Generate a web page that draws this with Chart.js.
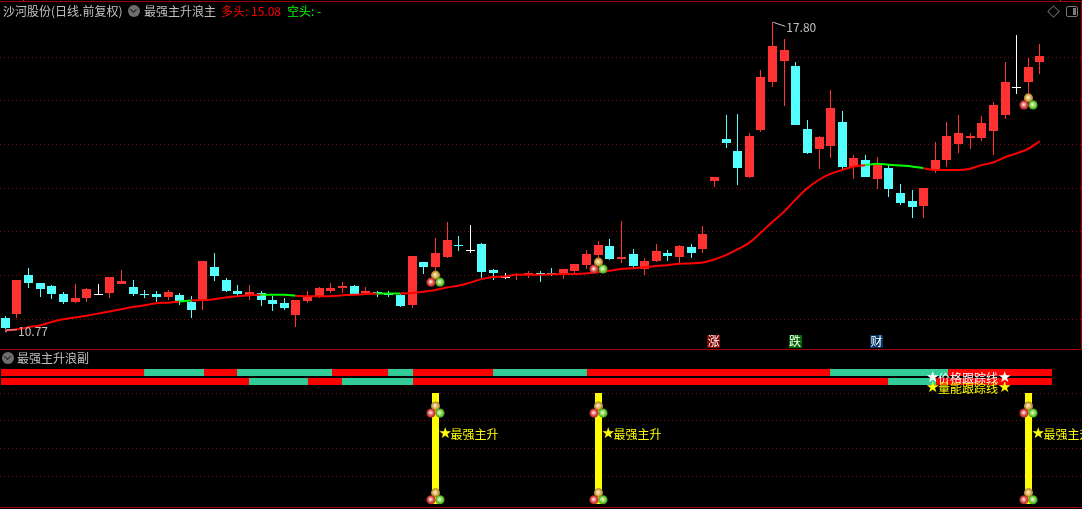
<!DOCTYPE html>
<html lang="zh">
<head>
<meta charset="utf-8">
<title>沙河股份</title>
<script src="https://cdn.jsdelivr.net/npm/chart.js@4/dist/chart.umd.min.js"></script>
<style>
    html, body { margin: 0; background: #000; overflow: hidden; }
    #wrap { position: relative; width: 1082px; height: 509px; overflow: hidden; font: 12px "Noto Sans CJK SC", sans-serif; }
    canvas { position: absolute; left: 0; top: 0; }
    .txt { position: absolute; white-space: nowrap; line-height: 14px; color: #c0c0c0; }
    .rule { position: absolute; background: #a00000; }
    .drop { position: absolute; width: 12px; height: 12px; border-radius: 50%; background: #6e6e6e; }
    .drop::after { content: ""; position: absolute; left: 3px; top: 2px; width: 4px; height: 4px; border: solid #222; border-width: 0 1px 1px 0; transform: rotate(45deg); }
    #diamond { position: absolute; left: 1049px; top: 7px; width: 7px; height: 7px; border: 1px solid #666; transform: rotate(45deg); }
    #box { position: absolute; left: 1066px; top: 6px; width: 10px; height: 9px; border: 1px solid #777; border-radius: 2px; }
    #box::after { content: ""; position: absolute; right: 1px; top: 1px; width: 3px; height: 7px; background: #777; }
</style>
</head>
<body>
<div id="wrap">
    <canvas id="kline" width="1082" height="509"></canvas>
    <div class="rule" style="left:0;top:1px;width:1082px;height:1px"></div>
    <div class="rule" style="left:23px;top:0;width:1px;height:1px;background:#ff2020"></div>
    <div class="rule" style="left:1060px;top:0;width:1px;height:1px;background:#ff2020"></div>
    <div class="rule" style="left:1081px;top:1px;width:1px;height:348px"></div>
    <div class="rule" style="left:0;top:349px;width:1082px;height:1px"></div>
    <div class="rule" style="left:0;top:507px;width:1082px;height:1px"></div>

    <div class="txt" style="left:3px;top:4px">沙河股份(日线.前复权)</div>
    <div class="drop" style="left:128px;top:5px"></div>
    <div class="txt" style="left:144px;top:4px">最强主升浪主</div>
    <div class="txt" style="left:221px;top:4px;color:#ff0000">多头: 15.08</div>
    <div class="txt" style="left:287px;top:4px;color:#00ff00">空头: -</div>
    <div id="diamond"></div>
    <div id="box"></div>

    <div class="drop" style="left:2px;top:352px"></div>
    <div class="txt" style="left:17px;top:351px">最强主升浪副</div>
</div>

<script>
// K-line values, index = trading day
const opens = [11.03,11.13,12.01,11.83,11.76,11.58,11.40,11.49,11.59,11.60,
    11.81,11.74,11.59,11.58,11.51,11.56,11.40,11.44,12.20,11.90,
    11.65,11.56,11.60,11.44,11.37,11.10,11.42,11.51,11.65,11.72,
    11.76,11.60,11.63,11.58,11.56,11.33,12.31,12.20,12.43,12.70,
    12.58,12.73,12.13,11.98,12.02,12.02,12.06,12.06,12.04,12.11,
    12.24,12.47,12.68,12.38,12.50,12.15,12.34,12.52,12.43,12.66,
    12.61,14.17,15.13,14.86,14.26,15.34,16.44,16.92,16.80,15.36,
    14.90,14.97,15.52,14.49,14.65,14.21,14.47,13.89,13.71,13.60,
    14.44,14.65,15.02,15.15,15.15,15.31,15.68,16.31,16.44,16.89];
const closes = [10.81,11.90,11.83,11.69,11.58,11.40,11.49,11.69,11.59,11.97,
    11.88,11.58,11.57,11.51,11.63,11.42,11.21,12.34,11.99,11.65,
    11.58,11.63,11.44,11.35,11.26,11.44,11.51,11.72,11.72,11.76,
    11.58,11.65,11.60,11.56,11.31,12.45,12.20,12.52,12.82,12.68,
    12.58,12.08,12.06,11.98,12.04,12.06,12.03,12.02,12.15,12.27,
    12.50,12.70,12.38,12.43,12.22,12.34,12.57,12.45,12.68,12.52,
    12.95,14.26,15.04,14.47,15.20,16.55,17.26,17.17,15.45,14.81,
    15.18,15.84,14.49,14.70,14.26,14.53,13.99,13.67,13.57,14.01,
    14.65,15.20,15.27,15.20,15.50,15.91,16.44,16.31,16.78,17.03];
const highs = [11.08,11.90,12.18,11.83,11.79,11.63,11.81,11.72,11.81,11.97,
    12.13,11.90,11.67,11.65,11.67,11.60,11.53,12.34,12.52,11.95,
    11.79,11.79,11.65,11.53,11.49,11.44,11.65,11.74,11.83,11.85,
    11.79,11.74,11.65,11.65,11.58,12.45,12.31,12.86,13.23,12.91,
    13.16,12.75,12.15,12.06,12.06,12.11,12.11,12.18,12.15,12.27,
    12.59,12.79,12.84,13.25,12.61,12.40,12.73,12.59,12.70,12.73,
    13.14,14.26,15.68,15.70,15.27,16.71,17.80,17.42,16.89,15.57,
    15.20,16.25,15.77,14.76,14.76,14.72,14.53,14.10,13.96,14.01,
    15.06,15.52,15.68,15.27,15.66,15.98,16.89,17.51,16.98,17.31];
const lows = [10.77,11.04,11.72,11.51,11.47,11.35,11.37,11.40,11.56,11.49,
    11.81,11.53,11.49,11.40,11.44,11.33,11.03,11.21,11.88,11.63,
    11.53,11.44,11.31,11.19,11.21,10.82,11.37,11.49,11.60,11.60,
    11.58,11.56,11.51,11.51,11.28,11.26,12.04,12.08,12.40,12.57,
    12.52,11.95,11.90,11.92,11.90,11.95,11.86,11.99,11.92,12.02,
    12.15,12.24,12.36,12.29,12.18,12.02,12.31,12.34,12.29,12.40,
    12.52,14.03,14.92,14.08,14.24,15.29,16.32,15.89,15.45,14.79,
    14.44,14.70,14.44,14.21,14.26,13.99,13.80,13.62,13.32,13.32,
    14.34,14.49,14.81,14.90,15.08,14.76,15.59,16.16,16.14,16.62];

// trend line and the days it runs green
const trend = [10.74,10.77,10.82,10.86,10.94,11.00,11.04,11.08,11.13,11.18,
    11.23,11.28,11.32,11.37,11.38,11.41,11.43,11.44,11.46,11.50,
    11.53,11.55,11.56,11.56,11.56,11.54,11.53,11.53,11.53,11.55,
    11.56,11.58,11.59,11.59,11.59,11.60,11.63,11.67,11.73,11.77,
    11.84,11.92,11.97,11.98,12.02,12.02,12.02,12.03,12.04,12.04,
    12.05,12.08,12.11,12.15,12.17,12.19,12.22,12.24,12.27,12.28,
    12.30,12.37,12.47,12.60,12.75,12.98,13.23,13.46,13.74,14.00,
    14.19,14.33,14.42,14.50,14.53,14.56,14.54,14.52,14.50,14.46,
    14.42,14.42,14.42,14.45,14.53,14.59,14.71,14.80,14.90,15.08];
const greenSpans = [[15, 16], [22, 25], [32, 34], [74, 79]];

const priceTicks = [11, 12, 13, 14, 15, 16, 17];
const lowerTicks = [20, 40, 60, 80];

// signal days
const signalDays = [37, 51, 88];
const signalPrices = [12.01, 12.31, 16.07];
const signalTop = 80;
const signalBase = 0;
const signalIconLevels = [70.6, 8.1];
const signalTextLevel = 50.4;
const signalText = '最强主升';

// state strips: edges on the day axis, colours alternate from red
const stripLevels = [94.8, 88.3];
const strip1Edges = [-0.34,11.96,17.12,19.96,28.13,32.95,35.1,41.98,50.06,70.97,81.12,90.06];
const strip2Edges = [-0.34,20.99,26.06,28.99,35.1,75.96,80.09,90.06];

const trackLabels = ['价格跟踪线', '量能跟踪线'];
const trackColors = ['#ffffff', '#ffff00'];
const trackLevels = [90.8, 83.6];
const trackDay = 79.23;

// badges under the candles
const badgeDays = [61, 68, 75];
const badgeTexts = ['涨', '跌', '财'];
const badgeColors = ['#800000', '#006600', '#003366'];
const badgePrice = 10.49;

const RED = '#ff3232', CYAN = '#54ffff', WHITE = '#ffffff';
const candleColor = i => closes[i] > opens[i] ? RED : closes[i] < opens[i] ? CYAN : WHITE;
const days = opens.map((_, i) => i);
const font12 = '12px "Noto Sans CJK SC", sans-serif';
const fontStar = '15px "DejaVu Sans", sans-serif';

function stripDatasets(edges, level) {
    const out = [];
    for (let i = 0; i < edges.length - 1; i++) {
        out.push({
            type: 'line', yAxisID: 'y2', order: 1,
            data: [{ x: edges[i], y: level }, { x: edges[i + 1], y: level }],
            borderColor: i % 2 ? '#33cc99' : '#ff0000',
            borderWidth: 7, borderCapStyle: 'butt', pointRadius: 0
        });
    }
    return out;
}

function drawBall(ctx, x, y, color, dark) {
    const g = ctx.createRadialGradient(x - 0.5, y - 0.5, 0.5, x, y, 4.6);
    g.addColorStop(0, '#f6e6d8');
    g.addColorStop(0.55, color);
    g.addColorStop(1, dark);
    ctx.fillStyle = g;
    ctx.beginPath();
    ctx.arc(x, y, 4.6, 0, Math.PI * 2);
    ctx.fill();
}

function drawBalls(ctx, x, y) {
    drawBall(ctx, x, y, '#dcb044', '#98742a');
    drawBall(ctx, x - 4.5, y + 7, '#e44c4c', '#a82a2a');
    drawBall(ctx, x + 4.5, y + 7, '#78d83c', '#3c9420');
}

function drawStar(ctx, x, y) {
    ctx.font = fontStar;
    ctx.fillText('★', x, y);
    ctx.font = font12;
}

// bars land on whole pixels, as in the terminal
const snapBars = {
    id: 'snapBars',
    afterDatasetUpdate(chart, args) {
        if (args.meta.type !== 'bar') return;
        args.meta.data.forEach(el => {
            el.x = Math.floor(el.x + 0.3) + 0.5;
            el.y = Math.round(el.y);
            el.base = Math.round(el.base);
            if (el.y === el.base) el.base = el.y + 1;
        });
    }
};

const overlay = {
    id: 'overlay',
    afterDatasetsDraw(chart) {
        const { ctx, scales } = chart;
        const X = scales.x, Y = scales.y, Y2 = scales.y2;
        ctx.save();
        ctx.font = font12;
        ctx.textBaseline = 'middle';
        ctx.textAlign = 'left';

        // high / low notes
        const hx = X.getPixelForValue(66), hy = Y.getPixelForValue(highs[66]);
        const lx = X.getPixelForValue(0), ly = Y.getPixelForValue(lows[0]);
        ctx.strokeStyle = '#c0c0c0';
        ctx.lineWidth = 1;
        ctx.beginPath();
        ctx.moveTo(hx + 1, hy);
        ctx.lineTo(hx + 13, hy + 4);
        ctx.moveTo(lx + 1, ly + 3);
        ctx.lineTo(lx + 1, ly + 0.5);
        ctx.lineTo(lx + 12, ly + 0.5);
        ctx.stroke();
        ctx.fillStyle = '#c0c0c0';
        ctx.fillText(highs[66].toFixed(2), hx + 14, hy + 5);
        ctx.fillText(lows[0].toFixed(2), lx + 13, ly + 2);

        // badges
        badgeDays.forEach((d, i) => {
            const x = X.getPixelForValue(d), y = Y.getPixelForValue(badgePrice);
            ctx.fillStyle = badgeColors[i];
            ctx.fillRect(Math.round(x) - 7, Math.round(y) - 7, 13, 13);
            ctx.fillStyle = '#ffffff';
            ctx.textAlign = 'center';
            ctx.fillText(badgeTexts[i], x - 0.5, y);
            ctx.textAlign = 'left';
        });

        // signal icons and captions
        signalDays.forEach((d, i) => {
            const x = Math.floor(X.getPixelForValue(d) + 0.3) + 0.5;
            drawBalls(ctx, x, Y.getPixelForValue(signalPrices[i]));
            signalIconLevels.forEach(v => drawBalls(ctx, x, Y2.getPixelForValue(v)));
            const ty = Y2.getPixelForValue(signalTextLevel);
            ctx.fillStyle = '#ffff00';
            drawStar(ctx, x + 3, ty);
            ctx.fillText(signalText, x + 15, ty);
        });

        // tracking captions sit on the strips
        trackLabels.forEach((t, i) => {
            const x = X.getPixelForValue(trackDay), y = Y2.getPixelForValue(trackLevels[i]);
            ctx.fillStyle = trackColors[i];
            drawStar(ctx, x, y);
            ctx.fillText(t, x + 12, y);
            drawStar(ctx, x + 72, y);
        });
        ctx.restore();
    }
};

const gridOpts = {
    color: '#7a0a0a',
    lineWidth: 1,
    drawTicks: false
};

new Chart(document.getElementById('kline'), {
    type: 'bar',
    data: {
        datasets: [
            {
                label: 'wick', order: 4, barThickness: 1, grouped: false, inflateAmount: 0,
                data: days.map(i => ({ x: i, y: [lows[i], highs[i]] })),
                backgroundColor: days.map(candleColor)
            },
            {
                label: 'body', order: 3, barThickness: 9, grouped: false, inflateAmount: 0,
                data: days.map(i => ({ x: i, y: [opens[i], closes[i]] })),
                backgroundColor: days.map(candleColor)
            },
            {
                label: 'signal', order: 3, yAxisID: 'y2', barThickness: 7, grouped: false, inflateAmount: 0,
                data: signalDays.map(d => ({ x: d, y: [signalBase, signalTop] })),
                backgroundColor: '#ffff00'
            },
            {
                type: 'line', label: 'trend', order: 1,
                data: days.map(i => ({ x: i, y: trend[i] })),
                borderWidth: 2, pointRadius: 0, cubicInterpolationMode: 'monotone', borderColor: '#ff0000',
                segment: {
                    borderColor: c => greenSpans.some(s => c.p0DataIndex >= s[0] && c.p0DataIndex < s[1]) ? '#00ff00' : '#ff0000'
                }
            },
            ...stripDatasets(strip1Edges, stripLevels[0]),
            ...stripDatasets(strip2Edges, stripLevels[1])
        ]
    },
    options: {
        responsive: false,
        animation: false,
        events: [],
        layout: { padding: 0 },
        plugins: { legend: { display: false }, tooltip: { enabled: false } },
        scales: {
            x: { type: 'linear', display: false, offset: false, min: -0.4301, max: 92.645 },
            y: {
                type: 'linear', position: 'left', min: 6.656, max: 18.312,
                grid: gridOpts, border: { display: false, dash: [1, 3] },
                ticks: { display: false },
                afterBuildTicks: s => { s.ticks = priceTicks.map(value => ({ value })); },
                afterFit: s => { s.width = 0; }
            },
            y2: {
                type: 'linear', axis: 'y', position: 'left', min: -3.6, max: 363.25,
                grid: gridOpts, border: { display: false, dash: [1, 3] },
                ticks: { display: false },
                afterBuildTicks: s => { s.ticks = lowerTicks.map(value => ({ value })); },
                afterFit: s => { s.width = 0; }
            }
        }
    },
    plugins: [snapBars, overlay]
});
</script>
</body>
</html>
